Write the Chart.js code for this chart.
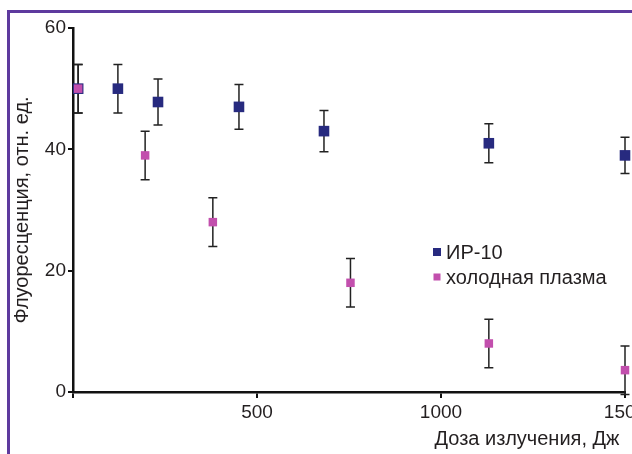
<!DOCTYPE html>
<html lang="ru">
<head>
    <meta charset="UTF-8">
    <title>Флуоресценция</title>
    <script src="https://cdn.jsdelivr.net/npm/chart.js"></script>
    <style>
        html, body { margin: 0; padding: 0; background: #fff; overflow: hidden; width: 632px; height: 454px; }
        .frame { position: absolute; left: 7px; top: 10px; width: 700px; height: 520px; border: 3px solid #5e3a9e; box-sizing: border-box; }
        #fluorChart { position: absolute; left: 0; top: 0; }
    </style>
</head>
<body>
    <div class="frame"></div>
    <canvas id="fluorChart" width="660" height="454"></canvas>

    <script>
        // данные
        var seriesNames = ['ИР-10', 'холодная плазма'];
        var doseIR = [14, 122, 231, 451, 682, 1130, 1500];
        var fluorIR = [50, 50, 47.8, 47, 43, 41, 39];
        var errIR = [4, 4, 3.8, 3.7, 3.4, 3.2, 3];
        var dosePlasma = [14, 196, 380, 754, 1130, 1500];
        var fluorPlasma = [50, 39, 28, 18, 8, 3.6];
        var errPlasma = [4, 4, 4, 4, 4, 4];
        var yTicks = [0, 20, 40, 60];
        var xTicks = [500, 1000, 1500];

        var colorIR = '#272a7f';
        var colorPlasma = '#c24fad';
        var textColor = '#231f20';
        var fontFamily = '"Liberation Sans", Arial, sans-serif';

        function toPoints(xs, ys) {
            return xs.map(function(x, i) { return { x: x, y: ys[i] }; });
        }

        // усы погрешностей
        var errorBars = {
            id: 'errorBars',
            beforeDatasetsDraw: function(chart) {
                var ctx = chart.ctx;
                var xs = chart.scales.x, ys = chart.scales.y;
                var errs = [errIR, errPlasma];
                ctx.save();
                ctx.strokeStyle = '#222';
                ctx.lineWidth = 1.5;
                chart.data.datasets.forEach(function(ds, di) {
                    ds.data.forEach(function(p, i) {
                        var px = xs.getPixelForValue(p.x);
                        var top = ys.getPixelForValue(p.y + errs[di][i]);
                        var bot = ys.getPixelForValue(p.y - errs[di][i]);
                        ctx.beginPath();
                        ctx.moveTo(px, top); ctx.lineTo(px, bot);
                        ctx.moveTo(px - 4.5, top); ctx.lineTo(px + 4.5, top);
                        ctx.moveTo(px - 4.5, bot); ctx.lineTo(px + 4.5, bot);
                        ctx.stroke();
                    });
                });
                ctx.restore();
            }
        };

        // легенда внутри графика
        var insideLegend = {
            id: 'insideLegend',
            afterDraw: function(chart) {
                var ctx = chart.ctx;
                var sizes = [8, 7];
                ctx.save();
                ctx.font = '20px ' + fontFamily;
                ctx.textBaseline = 'middle';
                chart.data.datasets.forEach(function(ds, i) {
                    var y = 252 + i * 25;
                    ctx.fillStyle = ds.backgroundColor;
                    ctx.fillRect(437 - sizes[i] / 2, y - sizes[i] / 2, sizes[i], sizes[i]);
                    ctx.fillStyle = textColor;
                    ctx.fillText(ds.label, 446, y + 1);
                });
                ctx.restore();
            }
        };

        var ctx = document.getElementById('fluorChart').getContext('2d');
        var fluorChart = new Chart(ctx, {
            type: 'scatter',
            data: {
                datasets: [{
                    label: seriesNames[0],
                    data: toPoints(doseIR, fluorIR),
                    backgroundColor: colorIR,
                    borderColor: colorIR,
                    pointStyle: 'rect',
                    pointRadius: 7.5,
                    pointHoverRadius: 7.5,
                    borderWidth: 0,
                    clip: false,
                    order: 1
                }, {
                    label: seriesNames[1],
                    data: toPoints(dosePlasma, fluorPlasma),
                    backgroundColor: colorPlasma,
                    borderColor: colorPlasma,
                    pointStyle: 'rect',
                    pointRadius: 6,
                    pointHoverRadius: 6,
                    borderWidth: 0,
                    clip: false,
                    order: 0
                }]
            },
            options: {
                responsive: false,
                animation: false,
                devicePixelRatio: 1,
                layout: { padding: { left: 8, right: 35, top: 28, bottom: 3 } },
                plugins: {
                    legend: { display: false },
                    tooltip: { enabled: false }
                },
                scales: {
                    x: {
                        type: 'linear',
                        min: 0,
                        max: 1500,
                        afterBuildTicks: function(s) {
                            s.ticks = [{ value: 0 }].concat(xTicks.map(function(v) { return { value: v }; }));
                        },
                        afterFit: function(s) { s.height = 59; s.paddingLeft = 0; s.paddingRight = 0; },
                        border: { color: '#111', width: 2.5 },
                        grid: { drawOnChartArea: false, tickLength: 6, color: '#111', lineWidth: 2 },
                        ticks: {
                            color: textColor,
                            font: { family: fontFamily, size: 19 },
                            padding: 3,
                            maxRotation: 0,
                            callback: function(v) { return v === 0 ? '' : v; }
                        },
                        title: {
                            display: true,
                            text: 'Доза излучения, Дж ',
                            align: 'end',
                            color: textColor,
                            font: { family: fontFamily, size: 20 },
                            padding: 0
                        }
                    },
                    y: {
                        min: 0,
                        max: 60,
                        afterBuildTicks: function(s) {
                            s.ticks = yTicks.map(function(v) { return { value: v }; });
                        },
                        afterFit: function(s) { s.width = 65; s.paddingTop = 0; s.paddingBottom = 0; },
                        border: { color: '#111', width: 2.5 },
                        grid: { drawOnChartArea: false, tickLength: 5, color: '#111', lineWidth: 2 },
                        ticks: {
                            color: textColor,
                            font: { family: fontFamily, size: 19 },
                            padding: 2
                        },
                        title: {
                            display: true,
                            text: 'Флуоресценция, отн. ед.',
                            color: textColor,
                            font: { family: fontFamily, size: 20 },
                            padding: { top: 2, bottom: 0 }
                        }
                    }
                }
            },
            plugins: [errorBars, insideLegend]
        });
    </script>
</body>
</html>
